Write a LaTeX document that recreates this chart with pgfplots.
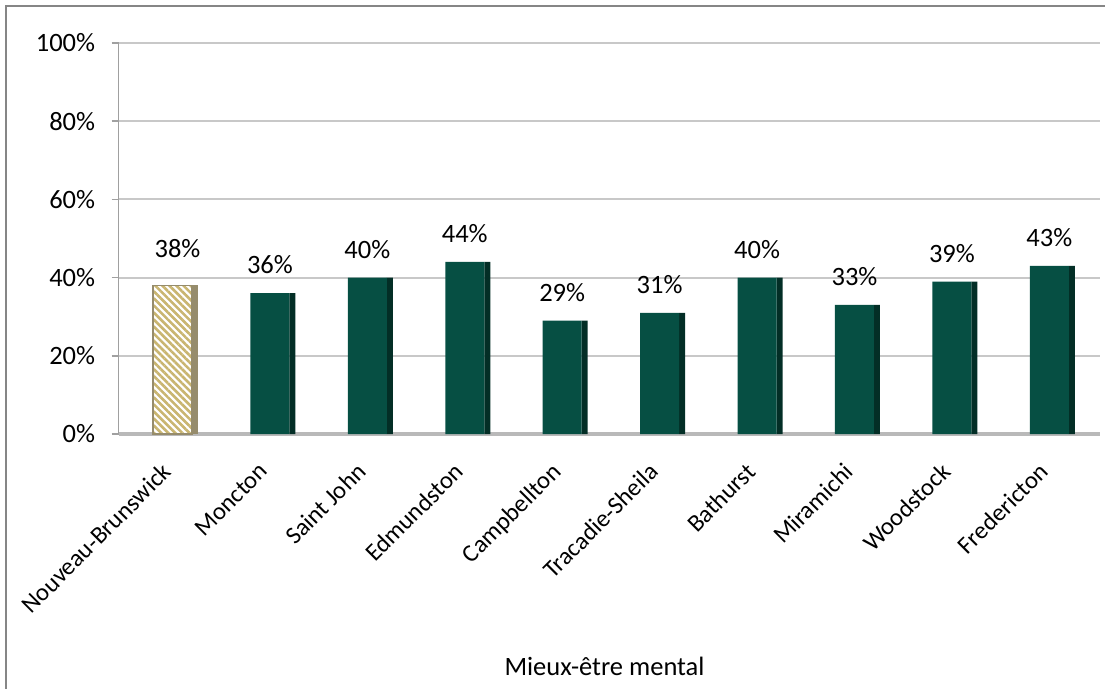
\documentclass[border=0pt]{standalone}
\usepackage{pgfplots}
\pgfplotsset{compat=1.18}
\usepackage{pgfplotstable}
\usepackage{fontspec}
\setmainfont{Carlito}
\usetikzlibrary{patterns.meta}

\definecolor{barfront}{RGB}{6,79,67}
\definecolor{barside}{RGB}{3,46,38}
\definecolor{hatchtan}{RGB}{201,181,112}
\definecolor{hatchside}{RGB}{150,140,108}
\definecolor{gridgray}{RGB}{200,200,200}
\definecolor{axisgray}{RGB}{160,160,160}
\definecolor{floorgray}{RGB}{185,185,185}
\definecolor{framegray}{RGB}{134,134,134}

% Province total (hatched bar)
\pgfplotstableread{
x y
0 38
}\provincetable

% Cities
\pgfplotstableread{
x y
1 36
2 40
3 44
4 29
5 31
6 40
7 33
8 39
9 43
}\citiestable

\begin{document}
\begin{tikzpicture}[font=\fontsize{13.25bp}{16bp}\selectfont]
\path[use as bounding box] (0,0) rectangle (552.5bp,344.5bp);
\draw[framegray, line width=1bp] (3bp,0) -- (3bp,341.5bp) -- (552.5bp,341.5bp);
\begin{axis}[
  at={(59.25bp,127.5bp)}, anchor=south west,
  scale only axis, width=490.75bp, height=195.5bp,
  xmin=-0.554, xmax=9.52, ymin=0, ymax=100,
  axis x line=bottom, axis y line=left, axis line style={-},
  x axis line style={draw=floorgray, line width=2bp},
  y axis line style={draw=axisgray, line width=0.8bp},
  xtick={0,...,9},
  xticklabels={Nouveau-Brunswick, Moncton, Saint John, Edmundston, Campbellton, Tracadie-Sheila, Bathurst, Miramichi, Woodstock, Fredericton},
  x tick style={draw=none},
  xticklabel style={xshift=-6bp, rotate=45, anchor=north east, inner sep=0pt,
    font=\fontsize{12.3bp}{15bp}\selectfont},
  xticklabel shift=10bp,
  ytick={0,20,...,100},
  yticklabel={\pgfmathprintnumber{\tick}\%},
  yticklabel style={anchor=east, inner sep=0pt},
  yticklabel shift=8bp,
  y tick style={draw=axisgray, line width=0.8bp},
  tick align=outside, major tick length=3.5bp,
  ymajorgrids, grid style={draw=gridgray, line width=1bp},
  /pgf/number format/assume math mode=true,
  clip=false,
]
% province: side face, white ground, hatching
\addplot[ybar, bar width=3bp, bar shift=11.25bp, fill=hatchside, draw=none]
  table[x=x, y=y]{\provincetable};
\addplot[ybar, bar width=19.5bp, bar shift=0pt, fill=white, draw=none]
  table[x=x, y=y]{\provincetable};
\addplot[ybar, bar width=19.5bp, bar shift=0pt, draw=hatchside, line width=0.6bp,
  pattern={Lines[angle=-45, distance=2.5bp, line width=1.3bp]}, pattern color=hatchtan,
  nodes near coords={\pgfmathprintnumber{\pgfplotspointmeta}\%},
  nodes near coords style={anchor=base, inner sep=0pt, xshift=2.5bp, yshift=13.75bp, text=black}]
  table[x=x, y=y]{\provincetable};
% cities: side face then front face
\addplot[ybar, bar width=3bp, bar shift=11.25bp, fill=barside, draw=none]
  table[x=x, y=y]{\citiestable};
\addplot[ybar, bar width=19.5bp, bar shift=0pt, fill=barfront, draw=none,
  nodes near coords={\pgfmathprintnumber{\pgfplotspointmeta}\%},
  nodes near coords style={anchor=base, inner sep=0pt, yshift=9.75bp, text=black}]
  table[x=x, y=y]{\citiestable};
\end{axis}
\node[anchor=base] at (302.25bp,7bp) {Mieux-être mental};
\end{tikzpicture}
\end{document}
